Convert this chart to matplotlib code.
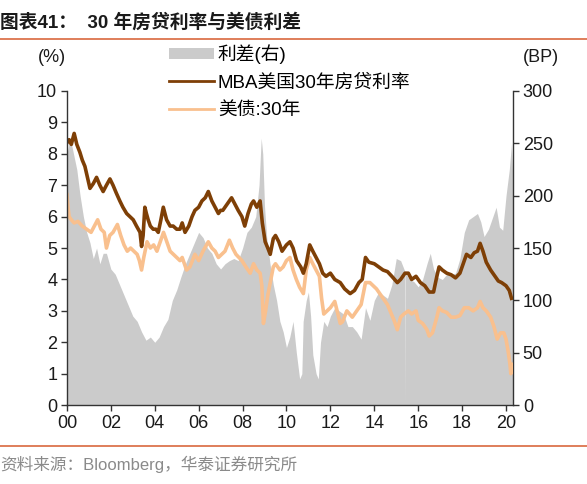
import numpy as np
import matplotlib
matplotlib.use('Agg')
import matplotlib.pyplot as plt
from matplotlib.patches import Patch
from matplotlib.lines import Line2D

plt.rcParams['font.family'] = ['Liberation Sans', 'Noto Sans CJK SC', 'DejaVu Sans']

# years since 2000
mba_x = [0.00, 0.10, 0.20, 0.33, 0.45, 0.59, 0.70, 0.82, 0.95, 1.05, 1.20, 1.35, 1.50, 1.65, 1.80, 1.96,
         2.10, 2.25, 2.41, 2.55, 2.72, 2.87, 3.02, 3.17, 3.33, 3.40, 3.47, 3.55, 3.62, 3.70, 3.80, 3.93,
         4.05, 4.16, 4.28, 4.39, 4.54, 4.70, 4.84, 5.00, 5.15, 5.25, 5.38, 5.55, 5.70, 5.83, 6.00, 6.15,
         6.30, 6.44, 6.60, 6.75, 6.90, 7.00, 7.10, 7.30, 7.50, 7.65, 7.80, 7.97, 8.10, 8.25, 8.40, 8.50,
         8.65, 8.80, 8.90, 9.03, 9.15, 9.26, 9.40, 9.50, 9.65, 9.80, 10.00, 10.16, 10.30, 10.46, 10.65,
         10.77, 10.90, 11.06, 11.20, 11.35, 11.50, 11.65, 11.80, 12.00, 12.20, 12.45, 12.65, 12.90, 13.10,
         13.30, 13.45, 13.60, 13.75, 14.00, 14.20, 14.40, 14.60, 14.80, 15.05, 15.20, 15.40, 15.55, 15.70,
         15.90, 16.10, 16.30, 16.50, 16.70, 16.85, 16.95, 17.10, 17.30, 17.50, 17.70, 17.90, 18.05, 18.20,
         18.40, 18.55, 18.70, 18.82, 18.95, 19.10, 19.30, 19.50, 19.65, 19.80, 20.00, 20.15, 20.25]
mba_rate = [8.35, 8.45, 8.30, 8.65, 8.30, 8.05, 7.80, 7.60, 7.20, 6.90, 7.05, 7.25, 7.00, 6.80, 7.00, 7.20,
            7.00, 6.75, 6.50, 6.30, 6.10, 6.00, 5.90, 5.70, 5.50, 5.05, 5.40, 6.30, 6.10, 5.90, 5.70, 5.60,
            5.60, 5.50, 5.90, 6.30, 5.90, 5.70, 5.70, 5.60, 5.60, 5.80, 5.50, 5.70, 6.00, 6.20, 6.30, 6.50,
            6.60, 6.80, 6.50, 6.30, 6.10, 6.20, 6.20, 6.40, 6.60, 6.40, 6.20, 6.00, 5.70, 6.10, 6.40, 6.50,
            6.30, 6.50, 5.80, 5.20, 5.00, 4.80, 5.30, 5.40, 5.20, 4.90, 5.10, 5.20, 5.00, 4.60, 4.40,
            4.20, 4.50, 5.10, 4.90, 4.70, 4.50, 4.20, 4.10, 4.20, 4.00, 3.90, 3.70, 3.55, 3.65,
            3.90, 4.00, 4.70, 4.55, 4.50, 4.40, 4.30, 4.25, 4.10, 3.90, 4.00, 4.20, 4.20, 4.00,
            4.10, 3.90, 3.80, 3.60, 3.60, 4.10, 4.40, 4.30, 4.20, 4.15, 4.05, 4.20, 4.50, 4.80,
            4.70, 4.85, 4.90, 5.15, 4.90, 4.55, 4.30, 4.10, 3.95, 3.90, 3.80, 3.65, 3.40]

ust_x = [0.00, 0.05, 0.10, 0.20, 0.33, 0.50, 0.70, 0.90, 1.10, 1.25, 1.40, 1.55, 1.70, 1.80, 1.95, 2.10,
         2.30, 2.45, 2.60, 2.75, 2.90, 3.05, 3.20, 3.30, 3.40, 3.50, 3.65, 3.80, 3.95, 4.10, 4.25, 4.40,
         4.55, 4.70, 4.85, 5.00, 5.15, 5.25, 5.45, 5.60, 5.83, 6.00, 6.20, 6.44, 6.60, 6.75, 6.90, 7.05,
         7.20, 7.40, 7.55, 7.70, 7.97, 8.15, 8.35, 8.50, 8.65, 8.80, 8.88, 8.95, 9.05, 9.15, 9.26, 9.40,
         9.50, 9.70, 9.85, 10.00, 10.16, 10.30, 10.45, 10.60, 10.77, 10.90, 11.06, 11.20, 11.35, 11.50,
         11.60, 11.70, 11.85, 12.00, 12.20, 12.45, 12.55, 12.75, 13.00, 13.20, 13.40, 13.60, 13.80, 14.10,
         14.30, 14.60, 14.90, 15.05, 15.20, 15.35, 15.55, 15.70, 15.90, 16.00, 16.20, 16.40, 16.50, 16.65,
         16.85, 16.95, 17.10, 17.30, 17.50, 17.70, 17.90, 18.10, 18.30, 18.50, 18.70, 18.82, 18.95, 19.10,
         19.30, 19.45, 19.60, 19.75, 19.90, 20.00, 20.10, 20.18, 20.22, 20.25]
ust_rate = [6.70, 6.30, 6.00, 5.90, 5.80, 5.85, 5.70, 5.60, 5.50, 5.70, 5.90, 5.60, 5.50, 5.00, 5.40, 5.50,
            5.75, 5.40, 5.10, 4.90, 5.00, 4.90, 4.80, 4.60, 4.30, 4.70, 5.20, 5.00, 5.10, 4.90, 5.20, 5.50,
            5.20, 4.90, 4.80, 4.70, 4.60, 4.70, 4.30, 4.40, 4.80, 4.60, 4.90, 5.20, 5.00, 4.90, 4.70, 4.80,
            4.90, 5.25, 5.00, 4.80, 4.60, 4.40, 4.20, 4.50, 4.30, 4.20, 3.80, 2.60, 3.00, 3.50, 3.90, 4.40,
            4.50, 4.30, 4.40, 4.60, 4.70, 4.30, 4.00, 3.75, 3.55, 4.30, 4.70, 4.50, 4.30, 4.10,
            3.40, 2.90, 3.00, 3.10, 3.30, 2.60, 2.65, 3.00, 2.80, 3.00, 3.20, 3.90, 3.90, 3.70,
            3.50, 3.20, 2.70, 2.40, 2.80, 2.90, 3.00, 2.90, 3.00, 2.70, 2.60, 2.40, 2.20, 2.30,
            2.80, 3.10, 3.00, 2.95, 2.80, 2.80, 2.85, 3.10, 3.10, 3.00, 3.10, 3.30, 3.10, 3.00,
            2.80, 2.50, 2.10, 2.30, 2.30, 2.10, 1.70, 1.30, 1.00, 1.30]

spread_x = [0.00, 0.15, 0.30, 0.45, 0.60, 0.75, 0.90, 1.05, 1.20, 1.35, 1.50, 1.65, 1.80, 2.00, 2.20, 2.40,
            2.60, 2.80, 3.00, 3.20, 3.40, 3.60, 3.80, 4.00, 4.20, 4.40, 4.60, 4.80, 5.00, 5.20, 5.40, 5.60,
            5.80, 6.00, 6.20, 6.40, 6.60, 6.80, 7.00, 7.20, 7.40, 7.60, 7.80, 8.00, 8.20, 8.40, 8.60, 8.75,
            8.85, 8.92, 9.00, 9.10, 9.25, 9.40, 9.55, 9.70, 9.85, 10.00, 10.15, 10.30, 10.45, 10.60, 10.70,
            10.76, 10.90, 11.00, 11.10, 11.20, 11.35, 11.45, 11.55, 11.70, 11.85, 12.00, 12.20, 12.40, 12.60,
            12.80, 13.00, 13.20, 13.40, 13.60, 13.80, 14.00, 14.20, 14.40, 14.60, 14.80, 15.00, 15.20, 15.35,
            15.39, 15.40, 15.41, 15.45, 15.60, 15.80, 16.00, 16.20, 16.40, 16.55, 16.70, 16.90, 17.10, 17.30,
            17.50, 17.70, 17.90, 18.10, 18.30, 18.50, 18.70, 18.85, 19.00, 19.20, 19.40, 19.55, 19.70, 19.85,
            20.00, 20.15, 20.25, 20.32]
spread_bp = [240, 255, 240, 225, 200, 180, 165, 155, 140, 150, 135, 145, 145, 130, 125, 115,
             105, 95, 85, 80, 70, 62, 65, 60, 65, 75, 82, 100, 110, 123, 135, 145,
             155, 165, 160, 150, 145, 135, 130, 135, 138, 140, 138, 150, 165, 170, 180, 210,
             255, 240, 190, 160, 135, 115, 100, 80, 70, 55, 65, 80, 50, 25, 30,
             80, 100, 108, 85, 48, 30, 25, 60, 80, 75, 85, 93, 90, 87,
             75, 75, 70, 63, 93, 81, 100, 108, 105, 102, 115, 140, 138, 130,
             128, 0, 126, 125, 120, 118, 113, 120, 135, 145, 130, 122, 120, 125,
             125, 126, 140, 165, 177, 180, 183, 175, 161, 168, 180, 189, 170, 167,
             200, 225, 250, 210]

year_ticks = list(range(0, 21, 2))
year_labels = ['%02d' % y for y in year_ticks]

brown = '#7E3F06'
peach = '#F9C08E'
grey = '#CBCBCB'
rule = '#D9683E'

fig = plt.figure(figsize=(5.87, 4.84), dpi=100)
ax = fig.add_axes([0.114, 0.163, 0.760, 0.649])
ax2 = ax.twinx()

ax2.fill_between(spread_x, 0, spread_bp, color=grey, lw=0)
ax.plot(ust_x, ust_rate, color=peach, lw=2.6, solid_joinstyle='round')
ax.plot(mba_x, mba_rate, color=brown, lw=2.6, solid_joinstyle='round')

ax.set_zorder(ax2.get_zorder() + 1)
ax.patch.set_visible(False)

ax.set_xlim(0, 20.32)
ax.set_ylim(0, 10)
ax2.set_ylim(0, 300)
ax.set_yticks(range(0, 11))
ax2.set_yticks(range(0, 301, 50))
ax.set_xticks(year_ticks)
ax.set_xticklabels(year_labels)

for a in (ax, ax2):
    a.spines['top'].set_visible(False)
    for s in a.spines.values():
        s.set_color('#333333')
        s.set_linewidth(1.0)
ax.spines['right'].set_visible(False)
ax2.spines['left'].set_visible(False)
ax2.spines['bottom'].set_visible(False)

ax.tick_params(axis='both', direction='out', length=4, width=1, color='#333333',
               labelsize=13, labelcolor='#1a1a1a', pad=3)
ax2.tick_params(axis='y', direction='out', length=4, width=1, color='#333333',
                labelsize=13, labelcolor='#1a1a1a', pad=3)

fig.text(52 / 587, 1 - 57 / 484, '(%)', ha='center', va='center', fontsize=13, color='#1a1a1a')
fig.text(541 / 587, 1 - 57 / 484, '(BP)', ha='center', va='center', fontsize=13, color='#1a1a1a')

handles = [Patch(facecolor=grey, edgecolor='none'),
           Line2D([], [], color=brown, lw=2.0),
           Line2D([], [], color=peach, lw=2.0)]
labels = ['利差(右)', 'MBA美国30年房贷利率', '美债:30年']
fig.legend(handles, labels, loc='upper left', bbox_to_anchor=(156 / 587, 1 - 31 / 484),
           frameon=False, fontsize=13.5, handlelength=2.4, handleheight=0.55,
           handletextpad=0.2, labelspacing=0.55, borderpad=0.2)

fig.text(0.0, 1 - 22 / 484, '图表41：  30 年房贷利率与美债利差', ha='left', va='center',
         fontsize=13.5, fontweight='bold', color='#1a1a1a')
fig.add_artist(Line2D([0, 1], [1 - 39 / 484, 1 - 39 / 484], transform=fig.transFigure,
                      color=rule, lw=1.2))
fig.add_artist(Line2D([0, 1], [1 - 446 / 484, 1 - 446 / 484], transform=fig.transFigure,
                      color=rule, lw=1.2))
fig.text(0.0, 1 - 464 / 484, '资料来源：Bloomberg，华泰证券研究所', ha='left', va='center',
         fontsize=12, color='#8a8a8a')

fig.savefig('out.png', dpi=100)
